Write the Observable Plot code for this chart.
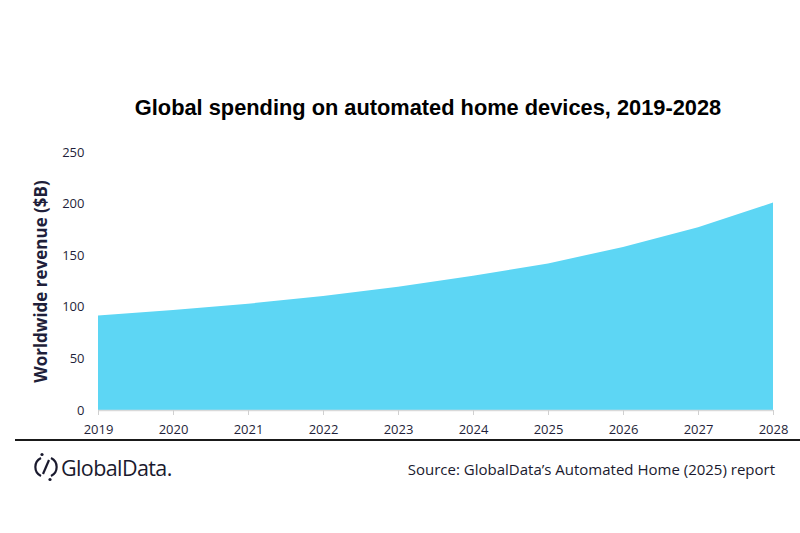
<!DOCTYPE html>
<html><head><meta charset="utf-8">
<script src="https://cdn.jsdelivr.net/npm/d3@7"></script>
<script src="https://cdn.jsdelivr.net/npm/@observablehq/plot@0.6"></script>
<style>
body{margin:0;background:#fff;}
#wrap{position:relative;width:800px;height:533px;overflow:hidden;font-family:"Open Sans",sans-serif;}
#title{position:absolute;left:0;width:856px;top:95px;text-align:center;font-family:"Liberation Sans",Arial,sans-serif;font-weight:bold;font-size:21.8px;color:#000;}
#rule{position:absolute;left:15px;right:0;top:439px;height:2px;background:#1a1a1a;}
#logo{position:absolute;left:33px;top:451px;display:flex;align-items:center;font-family:"Open Sans",sans-serif;font-size:21.5px;color:#1a1a2e;letter-spacing:-0.6px;}
#source{position:absolute;right:25px;top:459px;font-size:15px;color:#1a1a2e;font-family:"Open Sans",sans-serif;}
</style></head>
<body><div id="wrap">
<div id="title">Global spending on automated home devices, 2019-2028</div>
<div id="rule"></div>
<div id="logo"><svg width="26" height="32" viewBox="0 0 26 32"><path d="M8 7 A10 10 0 0 0 8 25" fill="none" stroke="#1a1a2e" stroke-width="2.2"/><path d="M18 7 A10 10 0 0 1 18 25" fill="none" stroke="#1a1a2e" stroke-width="2.2"/><line x1="16" y1="9" x2="10" y2="23" stroke="#1a1a2e" stroke-width="2.2"/><circle cx="9" cy="3.5" r="1.6" fill="#1a1a2e"/><circle cx="17" cy="28.5" r="1.6" fill="#1a1a2e"/></svg><span style="margin-left:2px">GlobalData.</span></div>
<div id="source">Source: GlobalData’s Automated Home (2025) report</div>
</div>
<script>
const years = [2019, 2020, 2021, 2022, 2023, 2024, 2025, 2026, 2027, 2028];
const revenue = [91.5, 97, 103, 110.5, 119.5, 130, 142, 158, 177, 201];
const yTicks = [0, 50, 100, 150, 200, 250];
const data = years.map((y, i) => ({year: y, value: revenue[i]}));

const chart = Plot.plot({
  width: 800,
  height: 533,
  marginLeft: 98,
  marginRight: 27,
  marginTop: 152,
  marginBottom: 123,
  style: {fontFamily: "Open Sans, sans-serif", fontSize: "13px", color: "#1f1f3a", background: "transparent"},
  x: {domain: [2019, 2028], label: null},
  y: {domain: [0, 250], label: null},
  marks: [
    Plot.areaY(data, {x: "year", y: "value", fill: "#5dd6f4", curve: "linear"}),
    Plot.ruleY([0], {stroke: "#d9d9d9", strokeWidth: 1.5}),
    Plot.axisX({ticks: years, tickFormat: d => String(d), stroke: "#d0d0d0", tickSize: 5, tickPadding: 9, label: null, fill: "#1f1f3a"}),
    Plot.axisY({ticks: yTicks, tickSize: 0, tickPadding: 14, label: "Worldwide revenue ($B)", labelAnchor: "center", labelArrow: "none", labelOffset: 64, fill: "#1f1f3a"})
  ]
});
chart.style.position = "absolute";
chart.style.left = "0";
chart.style.top = "0";
document.getElementById("wrap").prepend(chart);
chart.querySelectorAll("g[aria-label='y-axis label'] text").forEach(t => {
  t.style.fontWeight = "bold"; t.style.fontSize = "17px";
});
</script>
</body></html>
